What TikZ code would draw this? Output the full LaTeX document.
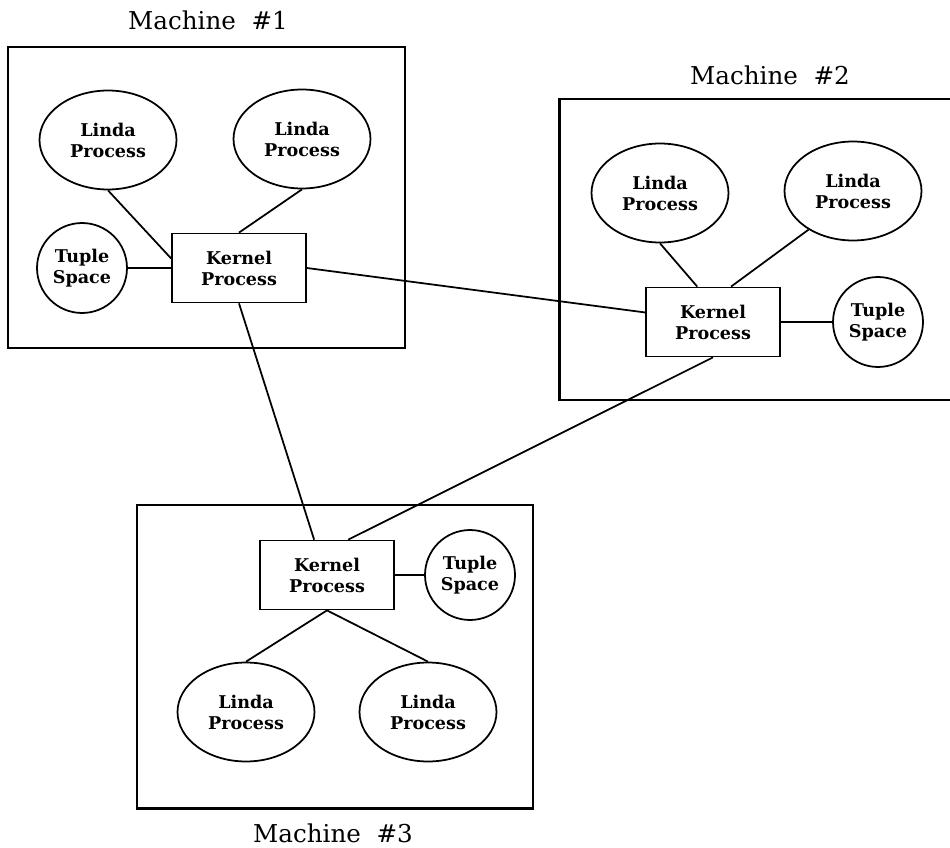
\documentclass[tikz,border=0pt]{standalone}
\usepackage{fontspec}
\setmainfont{DejaVu Serif}
\usetikzlibrary{shapes.geometric}

\begin{document}
\begin{tikzpicture}[x=0.02cm,y=-0.02cm,
  machine/.style={line width=1.7pt},
  mlabel/.style={font=\fontsize{14}{16}\selectfont},
  lproc/.style={ellipse,draw,line width=1pt,minimum width=2.74cm,minimum height=1.98cm,inner sep=0pt,align=center,font=\bfseries\fontsize{10}{12}\selectfont},
  tspace/.style={circle,draw,line width=1pt,minimum size=1.8cm,inner sep=0pt,align=center,font=\bfseries\fontsize{10}{12}\selectfont},
  kproc/.style={rectangle,draw,line width=1pt,minimum width=2.68cm,minimum height=1.38cm,inner sep=0pt,align=center,font=\bfseries\fontsize{10}{12}\selectfont},
  link/.style={line width=1pt}]
\useasboundingbox (0,0) rectangle (950,848);
\clip (0,0) rectangle (950,848);

\draw[machine] (8,47) rectangle (405,348);
\node[mlabel] (m1) at (208,20) {Machine~~\#1};
\node[lproc] (lp11) at (108,140) {Linda\\Process};
\node[lproc] (lp12) at (302,139) {Linda\\Process};
\node[tspace] (ts1) at (82,268) {Tuple\\Space};
\node[kproc] (kp1) at (239,268) {Kernel\\Process};

\draw[machine] (559,99) rectangle (960,400);
\node[mlabel] (m2) at (770,75) {Machine~~\#2};
\node[lproc] (lp21) at (660,193) {Linda\\Process};
\node[lproc] (lp22) at (853,191) {Linda\\Process};
\node[kproc] (kp2) at (713,322) {Kernel\\Process};
\node[tspace] (ts2) at (878,322) {Tuple\\Space};

\draw[machine] (137,505) rectangle (533,808);
\node[mlabel] (m3) at (333,833) {Machine~~\#3};
\node[kproc] (kp3) at (327,575) {Kernel\\Process};
\node[tspace] (ts3) at (470,575) {Tuple\\Space};
\node[lproc] (lp31) at (246,712) {Linda\\Process};
\node[lproc] (lp32) at (428,712) {Linda\\Process};

\draw[link] (lp11.south) -- (kp1.172);
\draw[link] (lp12.south) -- (kp1.north);
\draw[link] (ts1) -- (kp1);
\draw[link] (lp21.south) -- (kp2.114);
\draw[link] (lp22.221) -- (kp2.63);
\draw[link] (kp2) -- (ts2);
\draw[link] (kp3) -- (ts3);
\draw[link] (kp3.south) -- (lp31.north);
\draw[link] (kp3.south) -- (lp32.north);
\draw[link] (kp1.east) -- (kp2.172);
\draw[link] (kp1.south) -- (kp3.110);
\draw[link] (kp2.south) -- (kp3.59);
\end{tikzpicture}
\end{document}
